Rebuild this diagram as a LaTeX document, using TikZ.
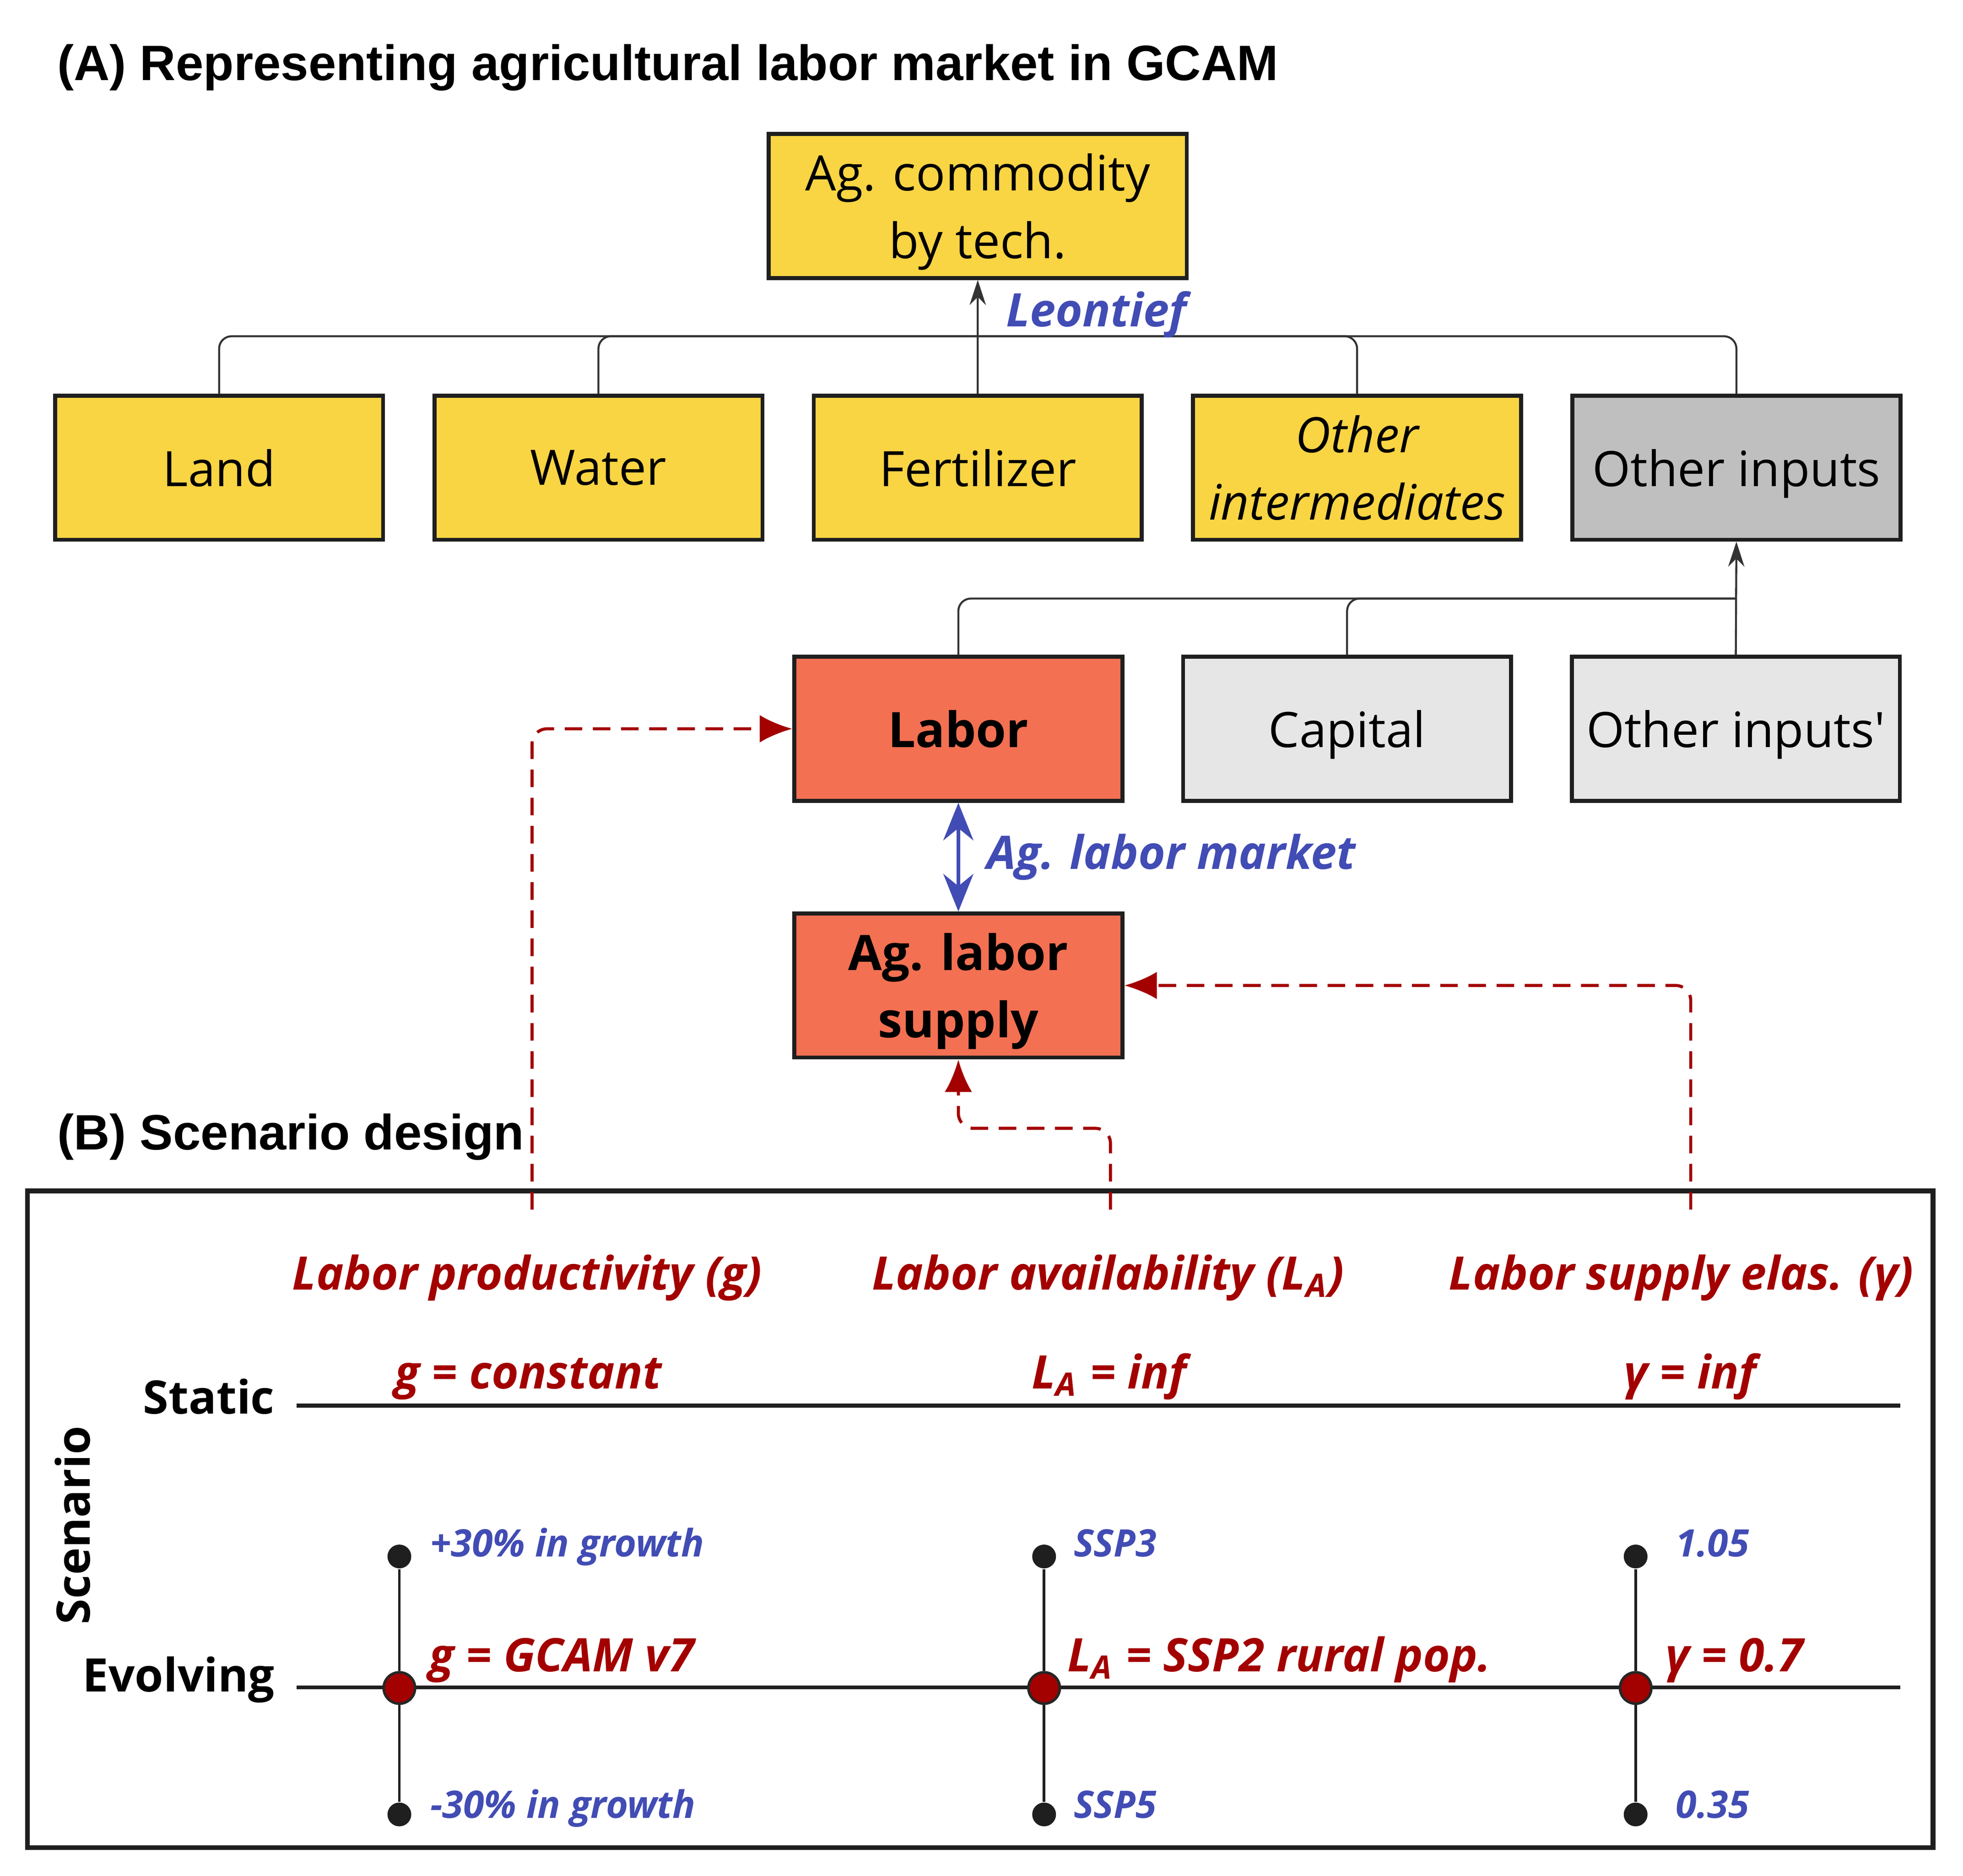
\documentclass[tikz,border=0pt]{standalone}
\usepackage{fontspec}
\setmainfont{Open Sans}
\newfontfamily\titlefont{Liberation Sans}
\usetikzlibrary{arrows.meta,positioning}
\definecolor{agyellow}{HTML}{F9D443}
\definecolor{midgray}{HTML}{BFBFBF}
\definecolor{lightgray}{HTML}{E6E6E6}
\definecolor{salmon}{HTML}{F37052}
\definecolor{agblue}{HTML}{414CB4}
\definecolor{agred}{HTML}{A30000}

\begin{document}
\begin{tikzpicture}[node distance=3.03cm, on grid,
    box/.style={draw=black!88, line width=0.9pt, minimum width=2.62cm, minimum height=1.15cm, inner sep=1pt, text depth=0pt, align=center, font=\fontsize{11.1}{15.3}\selectfont},
    ag/.style={box, fill=agyellow},
    gry/.style={box, fill=midgray},
    lgry/.style={box, fill=lightgray},
    lab/.style={box, fill=salmon, font=\fontsize{11.1}{15.3}\selectfont\bfseries},
    link/.style={draw=black!80, line width=0.45pt, rounded corners=0.1cm},
    merge/.style={-{Stealth[length=2mm,width=1.3mm]}},
    feed/.style={draw=agred, line width=0.7pt, dash pattern=on 4pt off 2.4pt, rounded corners=0.12cm, -{Latex[length=2.6mm,width=2.2mm]}},
    blab/.style={text=agblue, inner sep=0pt, font=\fontsize{10.5}{12}\selectfont\bfseries\itshape},
    rlab/.style={text=agred, inner sep=0pt, font=\fontsize{10.5}{12}\selectfont\bfseries\itshape},
    slab/.style={text=agblue, inner sep=0pt, anchor=base west, font=\fontsize{8.6}{10}\selectfont\bfseries\itshape},
    ttl/.style={inner sep=0pt, anchor=base west, font=\titlefont\fontsize{11.3}{13}\selectfont\bfseries},
    rowlab/.style={inner sep=0pt, anchor=base east, font=\fontsize{10.5}{12}\selectfont\bfseries},
    axis/.style={draw=black!88, line width=0.9pt},
    vline/.style={draw=black!88, line width=0.6pt},
    sdot/.style={circle, fill=black!88, inner sep=0pt, minimum size=0.19cm},
    rdot/.style={circle, fill=agred, draw=black!85, line width=0.6pt, inner sep=0pt, minimum size=0.25cm}
    ]
    \useasboundingbox (0,0) rectangle (15.68,-14.98);

    % (A) nesting tree
    \node[ttl] (titA) at (0.45,-0.64) {(A) Representing agricultural labor market in GCAM};
    \node[ag, minimum width=3.34cm] (comm) at (7.81,-1.645) {Ag. commodity\\by tech.};

    \node[ag] (land) at (1.75,-3.735) {Land};
    \node[ag, right=of land] (water) {Water};
    \node[ag, right=of water] (fert) {Fertilizer};
    \node[ag, right=of fert, font=\fontsize{11.1}{15.3}\selectfont\itshape] (oint) {Other\\intermediates};
    \node[gry, right=of oint] (oinp) {Other inputs};

    \coordinate (j1) at (7.81,-2.685);
    \draw[link] (land.north) |- (j1);
    \draw[link] (water.north) |- (j1);
    \draw[link] (oint.north) |- (j1);
    \draw[link] (oinp.north) |- (j1);
    \draw[link, merge] (fert.north) -- (comm.south);
    \node[blab, anchor=base west] (leon) at (8.03,-2.607) {Leontief};

    \node[lab] (labor) at (7.655,-5.82) {Labor};
    \node[lgry, right=3.105cm of labor] (cap) {Capital};
    \node[lgry, right=3.105cm of cap] (oinp2) {Other inputs\textquotesingle};

    \coordinate (j2) at (13.87,-4.78);
    \draw[link] (labor.north) |- (j2);
    \draw[link] (cap.north) |- (j2);
    \draw[link, merge] (oinp2.north) -- (oinp.south);

    \node[lab, below=2.05cm of labor] (supply) {Ag. labor\\supply};
    \draw[{Stealth[length=3mm,width=2.4mm]}-{Stealth[length=3mm,width=2.4mm]}, agblue, line width=0.8pt] (labor.south) -- (supply.north);
    \node[blab, anchor=base west] (mkt) at (7.875,-6.94) {Ag. labor market};

    % (B) scenario design
    \node[ttl] (titB) at (0.45,-9.18) {(B) Scenario design};
    \draw[line width=1.1pt, black!88] (0.22,-9.51) rectangle (15.44,-14.755);

    \node[rlab, anchor=base] (hdrg) at (4.21,-10.30) {Labor productivity (g)};
    \node[rlab, anchor=base] (hdra) at (8.85,-10.30) {Labor availability (L\textsubscript{A})};
    \node[rlab, anchor=base] (hdre) at (13.43,-10.30) {Labor supply elas. (γ)};

    \coordinate (pg) at (4.25,-9.66);
    \coordinate (pa) at (8.87,-9.66);
    \coordinate (pe) at (13.505,-9.66);
    \draw[feed] (pg) |- (labor.west);
    \draw[feed] (pa) |- ([yshift=-5.5mm]supply.south) -- (supply.south);
    \draw[feed] (pe) |- (supply.east);

    \node[rowlab] (stat) at (2.20,-11.29) {Static};
    \node[rowlab] (evol) at (2.20,-13.51) {Evolving};
    \node[rotate=90, font=\fontsize{10.5}{12}\selectfont\bfseries] (scen) at (0.58,-12.18) {Scenario};

    \draw[axis] (2.37,-11.225) -- (15.18,-11.225);
    \draw[axis] (2.37,-13.475) -- (15.18,-13.475);

    \node[rlab, anchor=base] (sg) at (4.22,-11.09) {g = constant};
    \node[rlab, anchor=base] (sa) at (8.86,-11.09) {L\textsubscript{A} = inf};
    \node[rlab, anchor=base] (se) at (13.50,-11.09) {γ = inf};

    \foreach \x/\n in {3.19/g, 8.34/a, 13.065/e}{
        \node[sdot] (hi\n) at (\x,-12.43) {};
        \node[sdot] (lo\n) at (\x,-14.49) {};
        \node[rdot] (mid\n) at (\x,-13.48) {};
        \draw[vline] (hi\n) -- (mid\n) -- (lo\n);
    }

    \node[slab] (gup) at (3.43,-12.43) {+30\% in growth};
    \node[slab] (gdn) at (3.43,-14.52) {-30\% in growth};
    \node[rlab, anchor=base west] (gmid) at (3.42,-13.35) {g = GCAM v7};
    \node[slab] (aup) at (8.57,-12.43) {SSP3};
    \node[slab] (adn) at (8.57,-14.52) {SSP5};
    \node[rlab, anchor=base west] (amid) at (8.52,-13.35) {L\textsubscript{A} = SSP2 rural pop.};
    \node[slab] (eup) at (13.38,-12.43) {1.05};
    \node[slab] (edn) at (13.38,-14.52) {0.35};
    \node[rlab, anchor=base west] (emid) at (13.30,-13.35) {γ = 0.7};
\end{tikzpicture}
\end{document}
